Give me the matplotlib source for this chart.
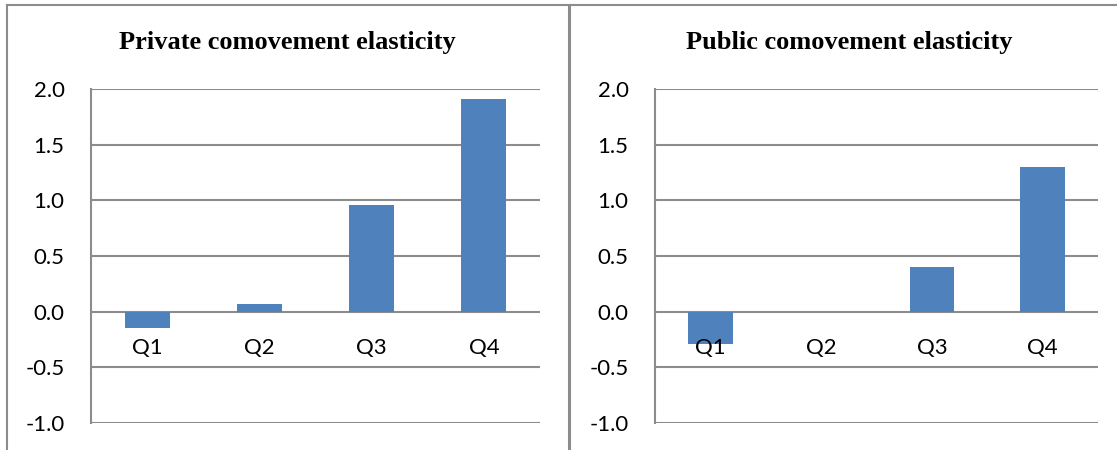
import matplotlib.pyplot as plt
from matplotlib.lines import Line2D
import numpy as np

# Datos
quarters = ['Q1', 'Q2', 'Q3', 'Q4']
private_vals = [-0.15, 0.07, 0.96, 1.91]
public_vals = [-0.29, 0.0, 0.40, 1.30]
titles = ['Private comovement elasticity', 'Public comovement elasticity']
yticks = [-1.0, -0.5, 0.0, 0.5, 1.0, 1.5, 2.0]

W, H = 1117, 450
fig = plt.figure(figsize=(W / 100, H / 100), dpi=100)

grey = '#8c8c8c'
bar_color = '#4f81bd'
lab_font = 'Lato'

# bordes de los paneles (en pixeles)
def px_line(xs, ys, lw=1.5):
    fig.add_artist(Line2D([x / W for x in xs], [1 - y / H for y in ys],
                          color=grey, lw=lw, transform=fig.transFigure))

px_line([7, W + 5], [5, 5])
px_line([7, 7], [5, H + 5])
px_line([569, 569], [5, H + 5], lw=2.2)

# posiciones de los ejes: (izq, der) en pixeles, y centro del titulo
panels = [(91, 540, 287), (655, 1098, 849)]
y_top, y_bot = 89, 423

for (x0, x1, tx), vals, title in zip(panels, [private_vals, public_vals], titles):
    ax = fig.add_axes([x0 / W, 1 - y_bot / H, (x1 - x0) / W, (y_bot - y_top) / H])
    x = np.arange(len(quarters))
    ax.bar(x, vals, width=0.4, color=bar_color, zorder=3)
    ax.set_xlim(-0.5, len(quarters) - 0.5)
    ax.set_ylim(-1.0, 2.0)
    ax.set_yticks(yticks)
    ax.set_yticklabels(['%.1f' % v for v in yticks], fontsize=16,
                       family=lab_font)
    ax.tick_params(axis='y', length=0, pad=19)
    ax.set_xticks([])
    for s in ['top', 'right', 'bottom']:
        ax.spines[s].set_visible(False)
    ax.spines['left'].set_color(grey)
    ax.spines['left'].set_linewidth(1.5)
    ax.grid(axis='y', color=grey, lw=1.5, zorder=1)
    ax.set_axisbelow(True)
    for i, q in enumerate(quarters):
        ax.annotate(q, (i, 0), xytext=(0, -36), textcoords='offset pixels',
                    ha='center', va='center', fontsize=16, family=lab_font,
                    zorder=4)
    fig.text(tx / W, 1 - 43 / H, title, ha='center', va='center',
             fontsize=19, fontweight='bold', family='Liberation Serif')

fig.savefig('out.png', dpi=100)
